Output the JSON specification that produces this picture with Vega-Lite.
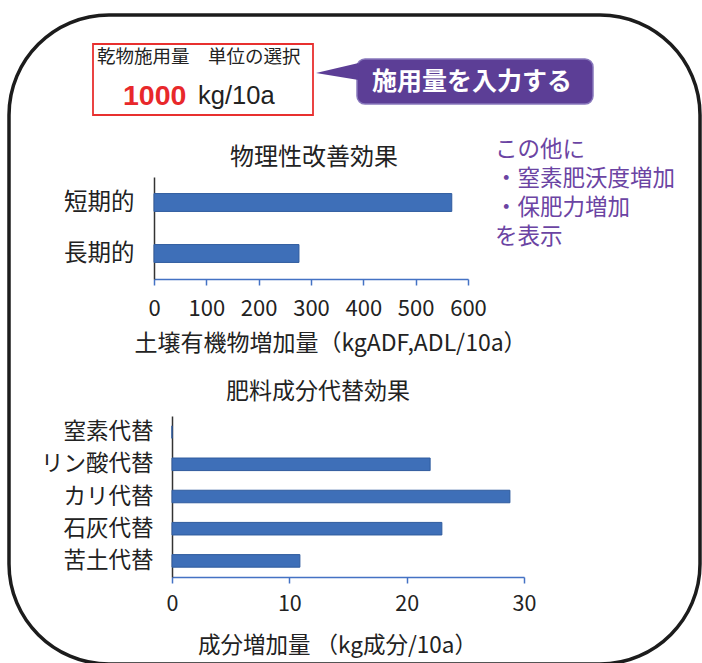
{
  "$schema": "https://vega.github.io/schema/vega-lite/v6.json",
  "width": 702,
  "height": 663,
  "autosize": "none",
  "padding": 0,
  "background": "white",
  "config": {
    "view": {"stroke": null},
    "font": "Noto Sans CJK JP",
    "text": {"font": "Noto Sans CJK JP"}
  },
  "layer": [
    {
      "layer": [
        {
          "data": {"values": [{}]},
          "mark": {"type": "rect", "fill": "transparent", "stroke": "#1c1c1c", "strokeWidth": 3.5, "cornerRadius": 100},
          "encoding": {
            "x": {"datum": 9, "type": "quantitative", "scale": {"domain": [0, 702], "range": [0, 702], "nice": false, "zero": false}, "axis": null},
            "x2": {"datum": 700},
            "y": {"datum": 15, "type": "quantitative", "scale": {"domain": [0, 663], "range": [0, 663], "nice": false, "zero": false}, "axis": null},
            "y2": {"datum": 664}
          }
        },
        {
          "data": {"values": [{}]},
          "mark": {"type": "rect", "fill": "white", "stroke": "#E8302F", "strokeWidth": 1.8},
          "encoding": {
            "x": {"datum": 93, "type": "quantitative", "scale": {"domain": [0, 702], "range": [0, 702], "nice": false, "zero": false}, "axis": null},
            "x2": {"datum": 313},
            "y": {"datum": 44, "type": "quantitative", "scale": {"domain": [0, 663], "range": [0, 663], "nice": false, "zero": false}, "axis": null},
            "y2": {"datum": 115}
          }
        },
        {
          "data": {"values": [{}]},
          "mark": {"type": "rect", "fill": "#5C3E96", "stroke": "#8878BC", "strokeWidth": 1.5, "cornerRadius": 8},
          "encoding": {
            "x": {"datum": 357, "type": "quantitative", "scale": {"domain": [0, 702], "range": [0, 702], "nice": false, "zero": false}, "axis": null},
            "x2": {"datum": 593},
            "y": {"datum": 59, "type": "quantitative", "scale": {"domain": [0, 663], "range": [0, 663], "nice": false, "zero": false}, "axis": null},
            "y2": {"datum": 104}
          }
        },
        {
          "data": {"values": [{}]},
          "mark": {"type": "point", "filled": true, "fill": "#5C3E96", "fillOpacity": 1, "strokeWidth": 0, "size": 1681, "shape": "M -1 0.05 L 1.08 -0.44 L 1.08 0.39 Z"},
          "encoding": {
            "x": {"datum": 336.5, "type": "quantitative", "scale": {"domain": [0, 702], "range": [0, 702], "nice": false, "zero": false}, "axis": null},
            "y": {"datum": 72, "type": "quantitative", "scale": {"domain": [0, 663], "range": [0, 663], "nice": false, "zero": false}, "axis": null}
          }
        },
        {
          "data": {"values": [{"label": "施用量を入力する"}]},
          "mark": {"type": "text", "fill": "white", "fontSize": 25, "fontWeight": "bold", "align": "center", "baseline": "middle"},
          "encoding": {
            "x": {"datum": 472, "type": "quantitative", "scale": {"domain": [0, 702], "range": [0, 702], "nice": false, "zero": false}, "axis": null},
            "y": {"datum": 82, "type": "quantitative", "scale": {"domain": [0, 663], "range": [0, 663], "nice": false, "zero": false}, "axis": null},
            "text": {"field": "label"}
          }
        },
        {
          "data": {"values": [{"label": "乾物施用量　単位の選択"}]},
          "mark": {"type": "text", "fill": "#222222", "fontSize": 18.5, "align": "left", "baseline": "middle"},
          "encoding": {
            "x": {"datum": 97, "type": "quantitative", "scale": {"domain": [0, 702], "range": [0, 702], "nice": false, "zero": false}, "axis": null},
            "y": {"datum": 57, "type": "quantitative", "scale": {"domain": [0, 663], "range": [0, 663], "nice": false, "zero": false}, "axis": null},
            "text": {"field": "label"}
          }
        },
        {
          "data": {"values": [{"label": "1000"}]},
          "mark": {"type": "text", "fill": "#E8282B", "font": "Liberation Sans", "fontSize": 28.5, "fontWeight": "bold", "align": "left", "baseline": "middle"},
          "encoding": {
            "x": {"datum": 123, "type": "quantitative", "scale": {"domain": [0, 702], "range": [0, 702], "nice": false, "zero": false}, "axis": null},
            "y": {"datum": 96, "type": "quantitative", "scale": {"domain": [0, 663], "range": [0, 663], "nice": false, "zero": false}, "axis": null},
            "text": {"field": "label"}
          }
        },
        {
          "data": {"values": [{"label": "kg/10a"}]},
          "mark": {"type": "text", "fill": "#222222", "font": "Liberation Sans", "fontSize": 25.5, "align": "left", "baseline": "middle"},
          "encoding": {
            "x": {"datum": 198, "type": "quantitative", "scale": {"domain": [0, 702], "range": [0, 702], "nice": false, "zero": false}, "axis": null},
            "y": {"datum": 96, "type": "quantitative", "scale": {"domain": [0, 663], "range": [0, 663], "nice": false, "zero": false}, "axis": null},
            "text": {"field": "label"}
          }
        },
        {
          "data": {"values": [{"label": "物理性改善効果"}]},
          "mark": {"type": "text", "fill": "#222222", "fontSize": 24, "align": "center", "baseline": "middle"},
          "encoding": {
            "x": {"datum": 314, "type": "quantitative", "scale": {"domain": [0, 702], "range": [0, 702], "nice": false, "zero": false}, "axis": null},
            "y": {"datum": 158, "type": "quantitative", "scale": {"domain": [0, 663], "range": [0, 663], "nice": false, "zero": false}, "axis": null},
            "text": {"field": "label"}
          }
        },
        {
          "data": {"values": [{"label": "肥料成分代替効果"}]},
          "mark": {"type": "text", "fill": "#222222", "fontSize": 23, "align": "center", "baseline": "middle"},
          "encoding": {
            "x": {"datum": 318, "type": "quantitative", "scale": {"domain": [0, 702], "range": [0, 702], "nice": false, "zero": false}, "axis": null},
            "y": {"datum": 392, "type": "quantitative", "scale": {"domain": [0, 663], "range": [0, 663], "nice": false, "zero": false}, "axis": null},
            "text": {"field": "label"}
          }
        },
        {
          "data": {"values": [{"label": "この他に\n・窒素肥沃度増加\n・保肥力増加\nを表示"}]},
          "mark": {"type": "text", "fill": "#6B44A3", "fontSize": 22.5, "align": "left", "baseline": "middle", "lineBreak": "\n", "lineHeight": 29},
          "encoding": {
            "x": {"datum": 495, "type": "quantitative", "scale": {"domain": [0, 702], "range": [0, 702], "nice": false, "zero": false}, "axis": null},
            "y": {"datum": 150, "type": "quantitative", "scale": {"domain": [0, 663], "range": [0, 663], "nice": false, "zero": false}, "axis": null},
            "text": {"field": "label"}
          }
        }
      ]
    },
    {
      "data": {"values": [{"期間": "短期的", "増加量": 569}, {"期間": "長期的", "増加量": 277}]},
      "mark": {"type": "bar", "fill": "#3E6FB8", "stroke": "#2F5B9E", "strokeWidth": 1},
      "encoding": {
        "y": {
          "field": "期間", "type": "nominal", "sort": ["短期的", "長期的"],
          "scale": {"range": [177, 279], "paddingInner": 0.65, "paddingOuter": 0.325},
          "axis": {"orient": "left", "title": null, "offset": -154, "ticks": false, "labelPadding": 20, "labelFontSize": 23.5, "labelColor": "#222222", "domainColor": "#333333", "domainWidth": 1.5, "labelFont": "Noto Sans CJK JP"}
        },
        "x": {
          "field": "増加量", "type": "quantitative",
          "scale": {"domain": [0, 600], "range": [154, 468], "nice": false},
          "axis": {"orient": "bottom", "title": "土壌有機物増加量（kgADF,ADL/10a）", "offset": -384, "values": [0, 100, 200, 300, 400, 500, 600], "grid": false, "labelFlush": false, "labelOverlap": false, "tickSize": 6, "tickWidth": 1.5, "tickColor": "#4472C4", "domainColor": "#4472C4", "domainWidth": 1.5, "labelFontSize": 22, "labelPadding": 13, "labelColor": "#222222", "labelFont": "Noto Sans CJK JP", "titleFont": "Noto Sans CJK JP", "titleFontSize": 23, "titleFontWeight": "normal", "titleColor": "#222222", "titleX": 330, "titleY": 64, "titleBaseline": "middle", "titleAlign": "center"}
        }
      }
    },
    {
      "data": {"values": [{"項目": "窒素代替", "増加量": 0}, {"項目": "リン酸代替", "増加量": 22}, {"項目": "カリ代替", "増加量": 28.8}, {"項目": "石灰代替", "増加量": 23}, {"項目": "苦土代替", "増加量": 10.9}]},
      "mark": {"type": "bar", "fill": "#3E6FB8", "stroke": "#2F5B9E", "strokeWidth": 1},
      "encoding": {
        "y": {
          "field": "項目", "type": "nominal", "sort": ["窒素代替", "リン酸代替", "カリ代替", "石灰代替", "苦土代替"],
          "scale": {"range": [416, 577], "paddingInner": 0.61, "paddingOuter": 0.305},
          "axis": {"orient": "left", "title": null, "offset": -172, "ticks": false, "labelPadding": 19, "labelFontSize": 22.5, "labelColor": "#222222", "domainColor": "#333333", "domainWidth": 1.5, "labelFont": "Noto Sans CJK JP"}
        },
        "x": {
          "field": "増加量", "type": "quantitative",
          "scale": {"domain": [0, 30], "range": [172, 524], "nice": false},
          "axis": {"orient": "bottom", "title": "成分増加量 （kg成分/10a）", "offset": -86, "values": [0, 10, 20, 30], "grid": false, "labelFlush": false, "labelOverlap": false, "tickSize": 6, "tickWidth": 1.5, "tickColor": "#4472C4", "domainColor": "#4472C4", "domainWidth": 1.5, "labelFontSize": 21.5, "labelPadding": 10, "labelColor": "#222222", "labelFont": "Noto Sans CJK JP", "titleFont": "Noto Sans CJK JP", "titleFontSize": 22.5, "titleFontWeight": "normal", "titleColor": "#222222", "titleX": 337, "titleY": 68, "titleBaseline": "middle", "titleAlign": "center"}
        }
      }
    }
  ],
  "resolve": {
    "scale": {"x": "independent", "y": "independent"},
    "axis": {"x": "independent", "y": "independent"}
  }
}
